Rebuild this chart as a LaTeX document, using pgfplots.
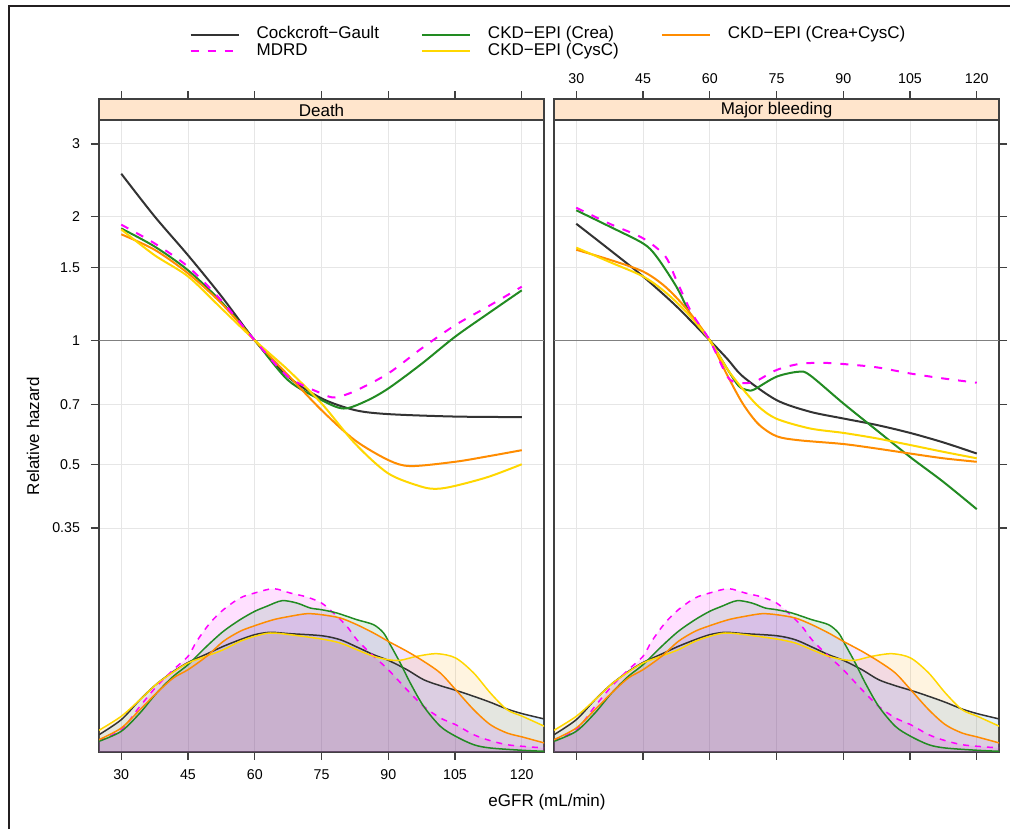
\documentclass[border=0pt]{standalone}
\usepackage{fontspec}
\setmainfont{Liberation Sans}
\usepackage{pgfplots}
\usepackage{pgfplotstable}
\pgfplotsset{compat=1.18}

\definecolor{cgc}{RGB}{51,51,51}
\definecolor{mdrdc}{RGB}{255,0,255}
\definecolor{creac}{RGB}{34,139,34}
\definecolor{cysc}{RGB}{255,215,0}
\definecolor{bothc}{RGB}{255,140,0}
\definecolor{gridc}{RGB}{230,230,230}
\definecolor{axc}{RGB}{64,64,64}
\definecolor{onec}{RGB}{128,128,128}
\definecolor{stripc}{RGB}{255,229,204}
\definecolor{framec}{RGB}{35,31,32}
% fills of the density polygons
\definecolor{fcg}{RGB}{0,128,255}
\definecolor{fmdrd}{RGB}{255,0,255}
\definecolor{fcrea}{RGB}{0,140,50}
\definecolor{fcys}{RGB}{255,165,0}
\definecolor{fboth}{RGB}{160,32,240}

% density curves (height above the panel floor)
\pgfplotstableread{
x h
25 17.3
30 32.3
34.2 52.3
37.95 68
41.7 80.5
45 89.5
49.2 98
52.95 105.7
56.7 112.3
60 117.3
63.45 119.7
67.95 118.3
75 116.3
79.2 112.3
82.95 105
86.7 97.3
90 91.7
94.2 82.3
97.95 72.3
101.7 66.3
105.15 61.7
109.2 55.7
112.95 49.7
116.7 43
120.15 38.3
125.1 33
}\dcg
\pgfplotstableread{
x h
25 11.3
30 22.3
34.2 45.7
37.95 65.7
41.7 82.3
45 95.7
46.95 110.7
49.95 129
52.95 142.3
56.7 154
60 159
64.2 163.3
67.95 159
71.7 155
75 149
77.7 139
80.7 125.7
82.95 112.3
85.95 99
90 82.3
94.2 62.3
97.95 45.7
101.7 34
105.15 27.3
109.2 17.3
112.95 11.3
116.7 7.3
120.15 5.7
125.1 4
}\dmdrd
\pgfplotstableread{
x h
25 10.7
30 20.7
34.2 39
37.95 59
41.7 75.7
45 87.3
49.2 105.7
52.95 120.7
56.7 132.3
60 140.7
62.7 145.7
66.1 151.3
69.45 149
72.45 144
75 142.3
78.45 139
82.95 132.3
86.7 127.3
88.95 119
90.45 107.3
92.7 89
94.95 69
97.95 45.7
101.7 25.7
105.15 15.7
109.2 7.3
112.95 4
120.15 1.7
125.1 0.7
}\dcrea
\pgfplotstableread{
x h
25 21.7
30 35.7
34.2 52.3
37.95 68
41.7 80
45 89
49.2 96
52.95 102.3
56.7 110.7
60 115.7
63.45 119
67.95 117.3
75 113
79.2 109
82.95 102.3
86.7 95.7
90 92.3
92.7 91.7
96.45 95.7
100.95 98.3
105.15 94
109.2 79
112.95 59
116.7 42.3
120.15 35.7
125.1 25.7
}\dcys
\pgfplotstableread{
x h
25 12.3
30 24
34.2 42.3
37.95 59
41.7 74
45 82.3
49.2 95.7
52.95 110.7
56.7 120.7
60 126.3
64.2 132.3
67.95 135.7
71.7 138.3
75 137.3
79.2 134
82.95 127.3
86.7 119
90 110.7
94.2 100.7
97.95 90.7
101.7 79
105.15 62.3
109.2 42.3
112.95 27.3
116.7 19
120.15 15
125.1 9
}\dboth

\pgfplotsset{
  panel/.style={scale only axis, width=222.5pt, height=326.5pt,
    xmin=25, xmax=125,
    xtick={30,45,60,75,90,105,120},
    xticklabels={30,45,60,75,90,105,120},
    ytick={0.35,0.5,0.7,1,1.5,2,3},
    tick align=outside, major tick length=4pt,
    grid=major, grid style={gridc, line width=0.5pt},
    axis line style={axc, line width=0.6pt},
    tick style={axc, line width=0.6pt},
    ticklabel style={font=\fontsize{7.1}{8}\selectfont},
  },
  dens/.style={scale only axis, width=222.5pt, height=326.5pt,
    xmin=25, xmax=125, ymin=0, ymax=653, hide axis,
  },
  dfill/.style={draw=none, fill=#1, fill opacity=0.12, smooth, forget plot},
  dline/.style={#1, smooth, line width=0.75pt},
}

\begin{document}
\begin{tikzpicture}
\useasboundingbox (0,0) rectangle (505pt,414.5pt);
\draw[line width=1pt, framec] (4.5pt,0pt) -- (4.5pt,411.25pt) -- (506pt,411.25pt);

% ---- Death ----
\begin{axis}[panel, ymode=log, ymin=0.1, ymax=3.858,
  at={(49.5pt,38.5pt)}, anchor=south west,
  ytick pos=left, xticklabel pos=bottom,
  yticklabels={0.35,0.5,0.7,1,1.5,2,3},
  yticklabel style={xshift=-2pt},
  xticklabel style={yshift=-1.5pt},
  legend columns=3, legend cell align=left,
  legend image code/.code={\draw[#1] (0pt,0pt) -- (24pt,0pt);},
  legend style={at={(1.0124,1.0855)}, anchor=center, draw=none, fill=none,
    font=\fontsize{8.5}{9}\selectfont,
    nodes={inner ysep=0pt, text height=6.2pt, text depth=2.1pt},
    /tikz/every odd column/.append style={column sep=6.5pt},
    /tikz/every even column/.append style={column sep=19pt}},
]
\addlegendimage{cgc, line width=1pt}\addlegendentry{Cockcroft−Gault}
\addlegendimage{creac, line width=1pt}\addlegendentry{CKD−EPI (Crea)}
\addlegendimage{bothc, line width=1pt}\addlegendentry{CKD−EPI (Crea+CysC)}
\addlegendimage{mdrdc, line width=1pt, dash pattern=on 4pt off 4.5pt}\addlegendentry{MDRD}
\addlegendimage{cysc, line width=1pt}\addlegendentry{CKD−EPI (CysC)}

\draw[onec, line width=0.6pt] (axis cs:25,1) -- (axis cs:125,1);

\addplot[cgc, smooth, line width=1pt, forget plot] coordinates {(30,2.54)(37.5,2.0)(45,1.61)(52.5,1.28)(60,1)(67.5,0.816)(75,0.723)(82.5,0.677)(90,0.662)(105,0.653)(120,0.651)};
\addplot[creac, smooth, line width=1pt, forget plot] coordinates {(30,1.87)(37.5,1.69)(45,1.48)(52.5,1.24)(60,1)(67.5,0.80)(75,0.716)(80,0.683)(85,0.712)(90,0.764)(97.5,0.877)(105,1.02)(112.5,1.163)(120,1.323)};
\addplot[bothc, smooth, line width=1pt, forget plot] coordinates {(30,1.81)(37.5,1.66)(45,1.455)(52.5,1.23)(60,1)(67.5,0.823)(75,0.677)(82.5,0.572)(90,0.512)(95,0.495)(105,0.507)(112.5,0.523)(120,0.541)};
\addplot[cysc, smooth, line width=1pt, forget plot] coordinates {(30,1.86)(37.5,1.61)(45,1.43)(52.5,1.196)(60,1)(67.5,0.847)(75,0.703)(82.5,0.562)(90,0.475)(97.5,0.441)(101,0.436)(105,0.443)(112.5,0.466)(120,0.5)};
\addplot[mdrdc, smooth, line width=1pt, dash pattern=on 4pt off 4.5pt, forget plot] coordinates {(30,1.91)(37.5,1.72)(45,1.51)(52.5,1.25)(60,1)(67.5,0.816)(75,0.743)(78,0.727)(82.5,0.753)(90,0.831)(97.5,0.956)(105,1.088)(112.5,1.21)(120,1.35)};

\draw[draw=axc, line width=0.6pt, fill=stripc] (axis cs:25,3.431) rectangle (axis cs:125,3.858);
\node[font=\fontsize{8.5}{10}\selectfont] at (axis cs:75,3.62) {Death};
\end{axis}

\begin{axis}[dens, at={(49.5pt,38.5pt)}, anchor=south west]
\addplot[dfill=fcg] table {\dcg} \closedcycle;
\addplot[dfill=fmdrd] table {\dmdrd} \closedcycle;
\addplot[dfill=fcrea] table {\dcrea} \closedcycle;
\addplot[dfill=fcys] table {\dcys} \closedcycle;
\addplot[dfill=fboth] table {\dboth} \closedcycle;
\addplot[dline=cgc] table {\dcg};
\addplot[dline=mdrdc, dash pattern=on 3pt off 3pt] table {\dmdrd};
\addplot[dline=creac] table {\dcrea};
\addplot[dline=cysc] table {\dcys};
\addplot[dline=bothc] table {\dboth};
\end{axis}

% ---- Major bleeding ----
\begin{axis}[panel, ymode=log, ymin=0.1, ymax=3.858,
  at={(277pt,38.5pt)}, anchor=south west,
  ytick pos=right, yticklabels={}, xticklabel pos=top]
\draw[onec, line width=0.6pt] (axis cs:25,1) -- (axis cs:125,1);

\addplot[cgc, smooth, line width=1pt] coordinates {(30,1.92)(37.5,1.66)(45,1.43)(52.5,1.21)(60,1)(64,0.90)(67.5,0.816)(75,0.716)(82.5,0.671)(90,0.646)(97.5,0.623)(105,0.596)(112.5,0.565)(120,0.531)};
\addplot[creac, smooth, line width=1pt] coordinates {(30,2.07)(37.5,1.89)(45,1.72)(48,1.60)(52.5,1.35)(56,1.14)(60,1)(64,0.85)(66.5,0.775)(68.5,0.757)(70,0.760)(75,0.816)(80,0.839)(82.5,0.823)(90,0.703)(97.5,0.605)(105,0.521)(112.5,0.453)(120,0.389)};
\addplot[bothc, smooth, line width=1pt] coordinates {(30,1.66)(37.5,1.57)(45,1.47)(50,1.35)(55,1.185)(60,1)(64,0.82)(67.5,0.70)(71,0.625)(75,0.585)(80,0.572)(90,0.56)(97.5,0.546)(105,0.531)(112.5,0.517)(120,0.507)};
\addplot[cysc, smooth, line width=1pt] coordinates {(30,1.68)(37.5,1.55)(45,1.43)(50,1.31)(55,1.163)(60,1)(64,0.85)(67.5,0.76)(71,0.69)(75,0.645)(82.5,0.611)(90,0.596)(97.5,0.578)(105,0.557)(112.5,0.536)(120,0.517)};
\addplot[mdrdc, smooth, line width=1pt, dash pattern=on 4pt off 4.5pt] coordinates {(30,2.10)(37.5,1.92)(45,1.77)(50,1.60)(52.5,1.40)(56,1.163)(60,1)(64,0.816)(66.5,0.789)(70,0.793)(75,0.847)(80,0.876)(85,0.882)(90,0.876)(97.5,0.86)(105,0.831)(112.5,0.808)(120,0.789)};

\draw[draw=axc, line width=0.6pt, fill=stripc] (axis cs:25,3.431) rectangle (axis cs:125,3.858);
\node[font=\fontsize{8.5}{10}\selectfont] at (axis cs:75,3.62) {Major bleeding};
\end{axis}

\begin{axis}[dens, at={(277pt,38.5pt)}, anchor=south west]
\addplot[dfill=fcg] table {\dcg} \closedcycle;
\addplot[dfill=fmdrd] table {\dmdrd} \closedcycle;
\addplot[dfill=fcrea] table {\dcrea} \closedcycle;
\addplot[dfill=fcys] table {\dcys} \closedcycle;
\addplot[dfill=fboth] table {\dboth} \closedcycle;
\addplot[dline=cgc] table {\dcg};
\addplot[dline=mdrdc, dash pattern=on 3pt off 3pt] table {\dmdrd};
\addplot[dline=creac] table {\dcrea};
\addplot[dline=cysc] table {\dcys};
\addplot[dline=bothc] table {\dboth};
\end{axis}

\node[rotate=90, font=\fontsize{8.5}{10}\selectfont] at (16.5pt,196.5pt) {Relative hazard};
\node[font=\fontsize{8.5}{10}\selectfont] at (273.5pt,13.5pt) {eGFR (mL/min)};
\end{tikzpicture}
\end{document}
